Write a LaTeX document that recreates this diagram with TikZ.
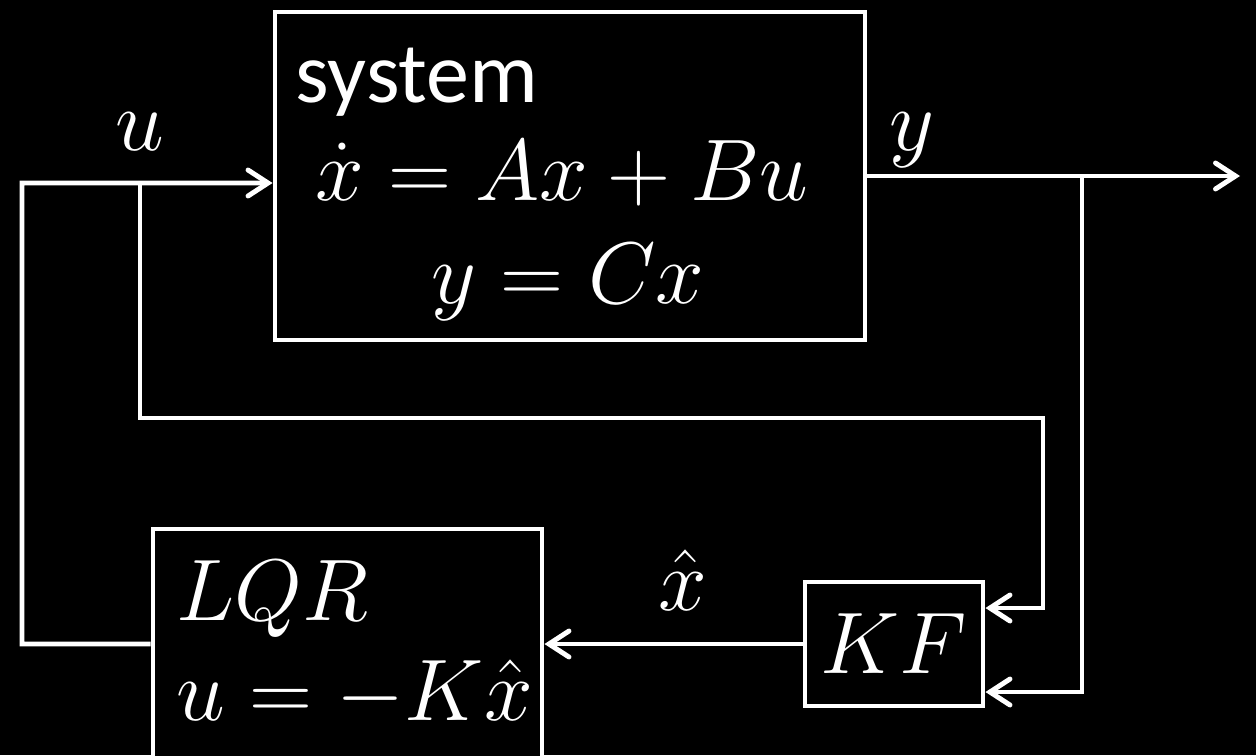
\documentclass[tikz,border=0pt]{standalone}
\usepackage{fontspec}
\setsansfont{Carlito}
\usetikzlibrary{arrows.meta,positioning}

\begin{document}
\begin{tikzpicture}[
  x=1cm,y=1cm,
  every node/.style={font=\fontsize{25}{30}\selectfont, text=white, inner sep=0pt},
  block/.style={draw=white, line width=1.4pt, fill=black},
  wire/.style={draw=white, line width=1.4pt},
  arrow/.style={wire, -{Straight Barb[length=2mm, width=2.6mm, line cap=round]}}
]
\fill[black] (0,0) rectangle (12.56,7.55);
\useasboundingbox (0,0) rectangle (12.56,7.55);

\node[block, minimum width=5.90cm, minimum height=3.28cm] (sys) at (5.70,5.79) {};
\node[anchor=base west, font=\sffamily\fontsize{24.5}{29}\selectfont] (systitle) at (2.95,6.53) {system};
\node[anchor=base] (stateeq) at (5.62,5.55) {$\dot{x} = Ax + Bu$};
\node[anchor=base] (outeq) at (5.68,4.52) {$y = Cx$};

\node[block, minimum width=3.89cm, minimum height=2.30cm] (lqr) at (3.475,1.11) {};
\node[anchor=base west] (lqrname) at (1.76,1.35) {$LQR$};
\node[anchor=base west] (lqrlaw) at (1.76,0.35) {$u = -K\hat{x}$};

\node[block, minimum width=1.78cm, minimum height=1.24cm] (kf) at (8.94,1.11) {$KF$};

\node[anchor=base] (ulabel) at (1.40,6.05) {$u$};
\node[anchor=base] (ylabel) at (9.12,6.05) {$y$};
\node[anchor=base] (xhatlabel) at (6.83,1.45) {$\hat{x}$};

\coordinate (uloop) at (0.22,5.72);
\coordinate (ubranch) at (1.40,5.72);
\coordinate (ufeed) at (10.43,3.37);
\coordinate (ybranch) at (10.82,5.79);
\coordinate (yend) at (12.40,5.79);

\draw[arrow] (lqr.west) -| (uloop) -- ([yshift=-0.7mm]sys.west);
\draw[arrow] (sys.east) -- (yend);
\draw[arrow] (ubranch) |- (ufeed) |- ([yshift=3.6mm]kf.east);
\draw[arrow] (ybranch) |- ([yshift=-4.8mm]kf.east);
\draw[arrow] (kf.west) -- (lqr.east);
\end{tikzpicture}
\end{document}
